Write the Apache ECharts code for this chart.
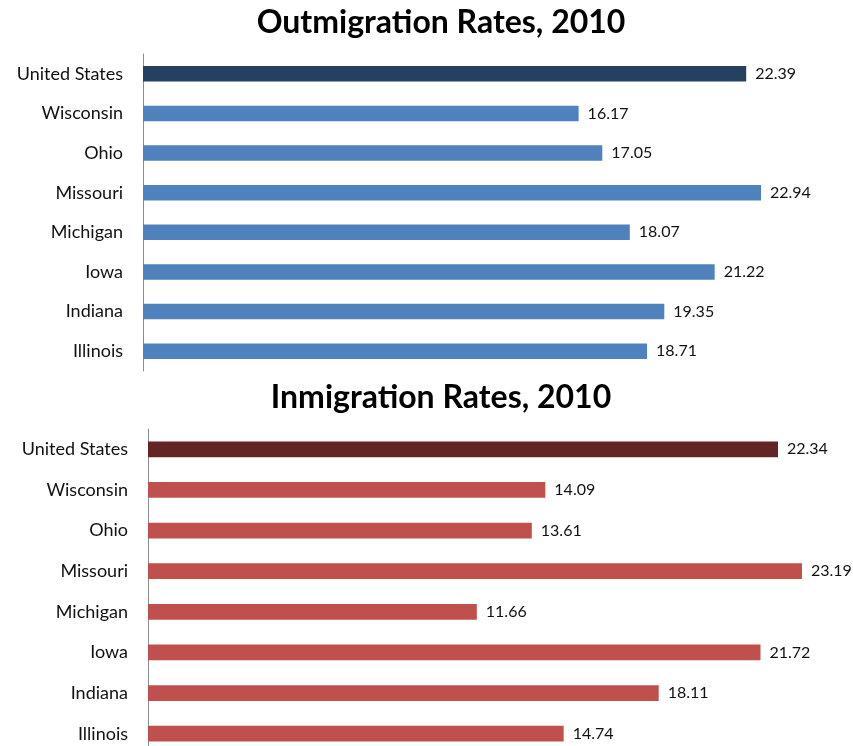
<!DOCTYPE html>
<html>
<head>
<meta charset="utf-8">
<script src="https://cdn.jsdelivr.net/npm/echarts@6/dist/echarts.min.js"></script>
<style>
  html, body { margin: 0; padding: 0; background: #fff; overflow: hidden; }
  /* a bit taller than the window: the lower chart runs off the bottom edge, as in the source */
  #chart { width: 853px; height: 760px; }
</style>
</head>
<body>
<div id="chart"></div>
<script>
const categories = ['United States', 'Wisconsin', 'Ohio', 'Missouri', 'Michigan', 'Iowa', 'Indiana', 'Illinois']
const outmigration = [22.39, 16.17, 17.05, 22.94, 18.07, 21.22, 19.35, 18.71]
const inmigration = [22.34, 14.09, 13.61, 23.19, 11.66, 21.72, 18.11, 14.74]

const FONT = 'Lato, "Open Sans", sans-serif'

const chart = echarts.init(document.getElementById('chart'))

const yAxisCommon = {
  type: 'category',
  data: categories,
  inverse: true,
  axisLine: { lineStyle: { color: '#8c8c8c', width: 1 } },
  axisTick: { show: false },
  axisLabel: { color: '#111', fontSize: 18, fontFamily: FONT, margin: 20 }
}

const xAxisCommon = {
  type: 'value',
  min: 0,
  max: 25,
  show: false
}

const makeSeries = (idx, values, dark, light) => ({
  type: 'bar',
  xAxisIndex: idx,
  yAxisIndex: idx,
  data: values,
  barWidth: '39%',
  itemStyle: {
    color: p => (p.dataIndex === 0 ? dark : light)
  },
  label: {
    show: true,
    position: 'right',
    distance: 9,
    color: '#111',
    fontSize: 16,
    fontFamily: FONT,
    formatter: p => p.value.toFixed(2)
  }
})

chart.setOption({
  animation: false,
  title: [
    {
      text: 'Outmigration Rates, 2010',
      left: 436, top: 2, textAlign: 'center',
      textStyle: { fontSize: 32, fontWeight: 'bold', fontFamily: FONT, color: '#000' }
    },
    {
      text: 'Inmigration Rates, 2010',
      left: 436, top: 377, textAlign: 'center',
      textStyle: { fontSize: 32, fontWeight: 'bold', fontFamily: FONT, color: '#000' }
    }
  ],
  grid: [
    { left: 143, top: 54, width: 673.5, height: 317 },
    { left: 148, top: 429, width: 706, height: 325 }
  ],
  xAxis: [
    { ...xAxisCommon, gridIndex: 0 },
    { ...xAxisCommon, gridIndex: 1 }
  ],
  yAxis: [
    { ...yAxisCommon, gridIndex: 0 },
    { ...yAxisCommon, gridIndex: 1 }
  ],
  series: [
    makeSeries(0, outmigration, '#264061', '#4f81bd'),
    makeSeries(1, inmigration, '#632523', '#c0504d')
  ]
})
</script>
</body>
</html>
